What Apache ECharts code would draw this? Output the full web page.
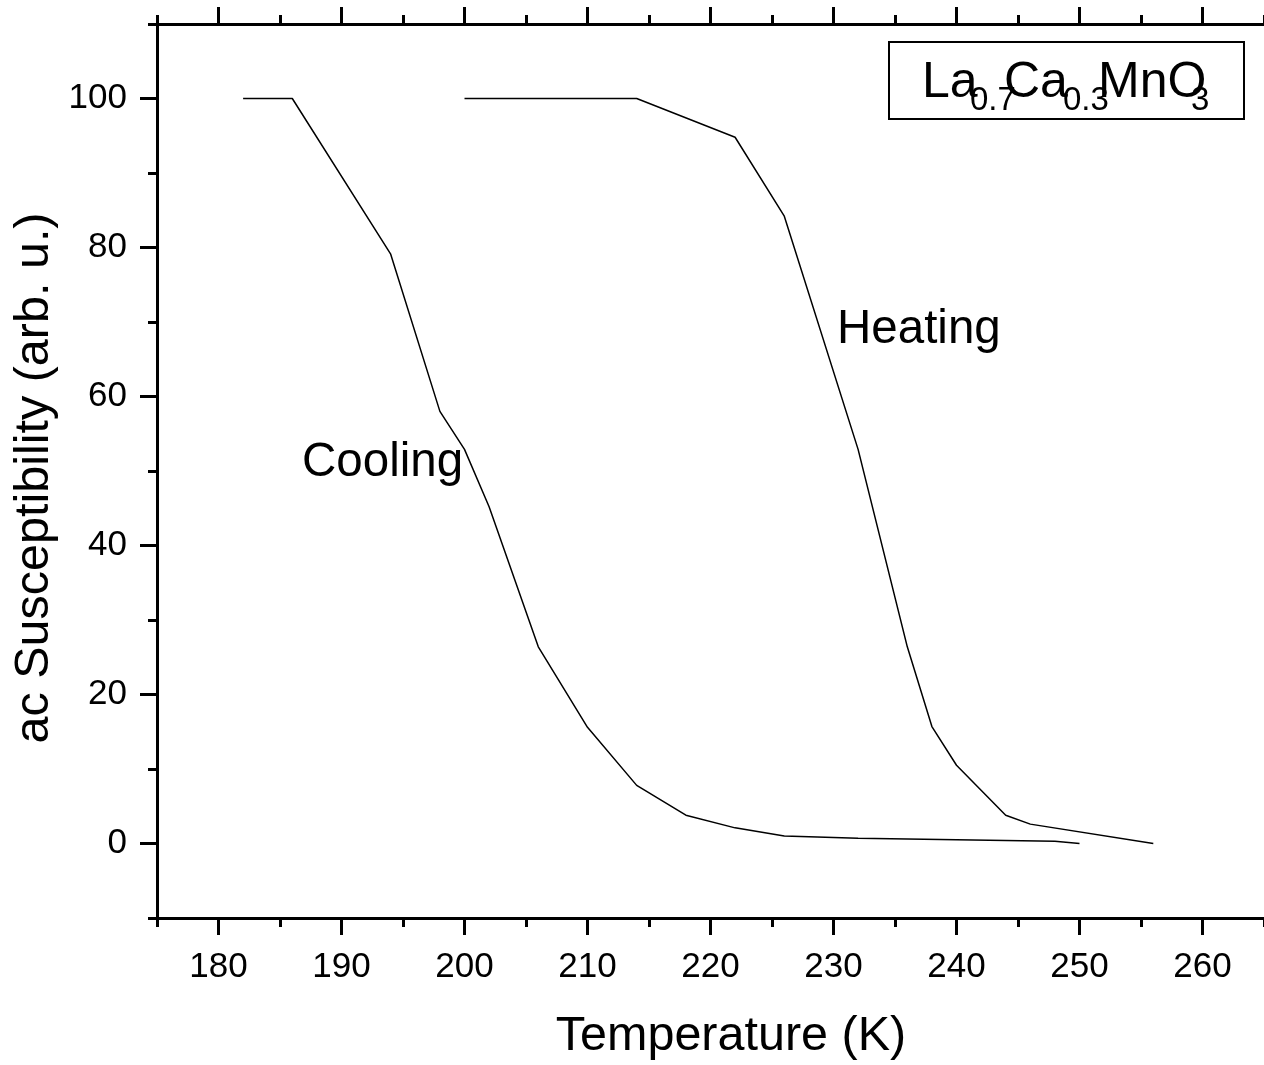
<!DOCTYPE html>
<html>
<head>
<meta charset="utf-8">
<style>
html,body{margin:0;padding:0;background:#fff;}
#chart{width:1264px;height:1065px;}
</style>
<script src="https://cdn.jsdelivr.net/npm/echarts@6/dist/echarts.min.js"></script>
</head>
<body>
<div id="chart"></div>
<script>
// ---- data ----
const coolingT   = [182, 186, 194, 198, 200, 202, 206, 210, 214, 218, 222, 226, 232, 248, 250];
const coolingChi = [100, 100, 79.1, 58.0, 52.9, 45.2, 26.4, 15.6, 7.8, 3.8, 2.1, 1.0, 0.7, 0.3, 0];
const heatingT   = [200, 214, 222, 226, 232, 236, 238, 240, 244, 246, 256];
const heatingChi = [100, 100, 94.8, 84.2, 52.9, 26.4, 15.7, 10.5, 3.8, 2.6, 0];

const xMajor = [180, 190, 200, 210, 220, 230, 240, 250, 260];
const xMinor = [175, 185, 195, 205, 215, 225, 235, 245, 255, 265];
const yMajor = [0, 20, 40, 60, 80, 100];
const yMinor = [-10, 10, 30, 50, 70, 90, 110];

const FONT = "'Liberation Sans', Arial, sans-serif";
const K = '#000';

const gridBox = {left: 157, top: 24, width: 1111, height: 894};

function pairs(xs, ys) { return xs.map((x, i) => [x, ys[i]]); }

const chart = echarts.init(document.getElementById('chart'), null, {renderer: 'canvas'});

const lineAxis = {show: true, onZero: false, lineStyle: {color: K, width: 3}};
const noLine = {show: false, onZero: false};

chart.setOption({
  backgroundColor: '#fff',
  animation: false,
  grid: [
    Object.assign({}, gridBox),
    Object.assign({}, gridBox)
  ],
  xAxis: [
    {
      type: 'value', gridIndex: 0, position: 'bottom', min: 175, max: 265,
      axisLine: lineAxis,
      axisTick: {show: true, inside: false, length: 17, lineStyle: {color: K, width: 3}, customValues: xMajor},
      axisLabel: {show: true, color: K, fontSize: 35, fontFamily: FONT, margin: 32, customValues: xMajor},
      splitLine: {show: false}
    },
    {
      type: 'value', gridIndex: 0, position: 'top', min: 175, max: 265,
      axisLine: lineAxis,
      axisTick: {show: true, inside: false, length: 17, lineStyle: {color: K, width: 3}, customValues: xMajor},
      axisLabel: {show: false},
      splitLine: {show: false}
    },
    {
      type: 'value', gridIndex: 1, position: 'bottom', min: 175, max: 265,
      axisLine: noLine,
      axisTick: {show: true, inside: false, length: 9, lineStyle: {color: K, width: 3}, customValues: xMinor},
      axisLabel: {show: false},
      splitLine: {show: false}
    },
    {
      type: 'value', gridIndex: 1, position: 'top', min: 175, max: 265,
      axisLine: noLine,
      axisTick: {show: true, inside: false, length: 9, lineStyle: {color: K, width: 3}, customValues: xMinor},
      axisLabel: {show: false},
      splitLine: {show: false}
    }
  ],
  yAxis: [
    {
      type: 'value', gridIndex: 0, position: 'left', min: -10, max: 110,
      axisLine: lineAxis,
      axisTick: {show: true, inside: false, length: 17, lineStyle: {color: K, width: 3}, customValues: yMajor},
      axisLabel: {show: true, color: K, fontSize: 35, fontFamily: FONT, margin: 30, customValues: yMajor},
      splitLine: {show: false}
    },
    {
      type: 'value', gridIndex: 1, position: 'left', min: -10, max: 110,
      axisLine: noLine,
      axisTick: {show: true, inside: false, length: 9, lineStyle: {color: K, width: 3}, customValues: yMinor},
      axisLabel: {show: false},
      splitLine: {show: false}
    }
  ],
  series: [
    {
      name: 'Cooling', type: 'line', xAxisIndex: 0, yAxisIndex: 0,
      data: pairs(coolingT, coolingChi),
      showSymbol: false, symbol: 'none',
      lineStyle: {color: K, width: 1.5}
    },
    {
      name: 'Heating', type: 'line', xAxisIndex: 0, yAxisIndex: 0,
      data: pairs(heatingT, heatingChi),
      showSymbol: false, symbol: 'none',
      lineStyle: {color: K, width: 1.5}
    }
  ],
  graphic: {
    elements: [
      {type: 'text', x: 731, y: 1037, style: {text: 'Temperature (K)', fontSize: 48.5, fontFamily: FONT, fill: K, align: 'center', verticalAlign: 'middle'}},
      {type: 'text', x: 35, y: 478, rotation: Math.PI / 2, style: {text: 'ac Susceptibility (arb. u.)', fontSize: 48.5, fontFamily: FONT, fill: K, align: 'center', verticalAlign: 'middle'}},
      {type: 'text', x: 302, y: 463, style: {text: 'Cooling', fontSize: 47.5, fontFamily: FONT, fill: K, align: 'left', verticalAlign: 'middle'}},
      {type: 'text', x: 837, y: 330, style: {text: 'Heating', fontSize: 47.5, fontFamily: FONT, fill: K, align: 'left', verticalAlign: 'middle'}},
      {type: 'rect', shape: {x: 889, y: 42, width: 355, height: 77}, style: {fill: '#fff', stroke: K, lineWidth: 2}},
      {type: 'text', x: 922, y: 83, style: {text: 'La', fontSize: 50, fontFamily: FONT, fill: K, align: 'left', verticalAlign: 'middle'}},
      {type: 'text', x: 970, y: 101, style: {text: '0.7', fontSize: 33, fontFamily: FONT, fill: K, align: 'left', verticalAlign: 'middle'}},
      {type: 'text', x: 1004, y: 83, style: {text: 'Ca', fontSize: 50, fontFamily: FONT, fill: K, align: 'left', verticalAlign: 'middle'}},
      {type: 'text', x: 1063, y: 101, style: {text: '0.3', fontSize: 33, fontFamily: FONT, fill: K, align: 'left', verticalAlign: 'middle'}},
      {type: 'text', x: 1098, y: 83, style: {text: 'MnO', fontSize: 50, fontFamily: FONT, fill: K, align: 'left', verticalAlign: 'middle'}},
      {type: 'text', x: 1191, y: 101, style: {text: '3', fontSize: 33, fontFamily: FONT, fill: K, align: 'left', verticalAlign: 'middle'}}
    ]
  }
});
</script>
</body>
</html>
